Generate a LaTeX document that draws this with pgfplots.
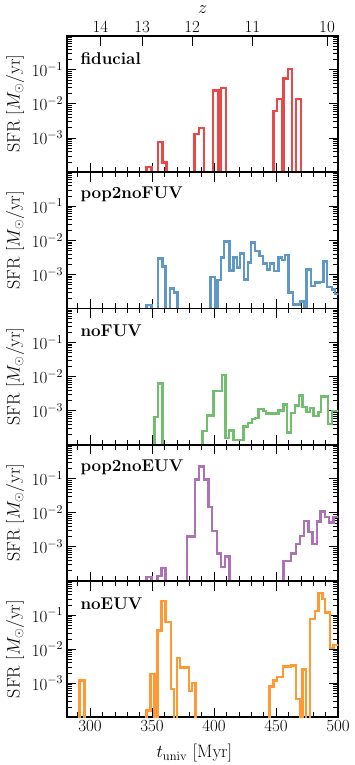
\RequirePackage{fix-cm}
\documentclass[border=0pt]{standalone}
\usepackage{pgfplots}
\pgfplotsset{compat=1.18}

\definecolor{cred}{RGB}{233,72,73}
\definecolor{cblue}{RGB}{95,152,198}
\definecolor{cgreen}{RGB}{113,191,110}
\definecolor{cpurple}{RGB}{173,113,181}
\definecolor{corange}{RGB}{255,153,51}

\newcommand{\tickfont}{\fontsize{17}{17}\selectfont}
\newcommand{\labfont}{\fontsize{18}{18}\selectfont}
\newcommand{\tagfont}{\fontsize{17}{17}\selectfont\bfseries}

\pgfplotsset{
  sfrpanel/.style={
    scale only axis, width=271.6pt, height=136.3pt,
    xmin=281.2, xmax=500.2,
    ymin=1e-4, ymax=1,
    xtick={300,350,400,450,500},
    minor xtick={290,300,...,500},
    ytick={1e-3,1e-2,1e-1},
    minor ytick={2e-4,3e-4,4e-4,5e-4,6e-4,7e-4,8e-4,9e-4,
                 2e-3,3e-3,4e-3,5e-3,6e-3,7e-3,8e-3,9e-3,
                 2e-2,3e-2,4e-2,5e-2,6e-2,7e-2,8e-2,9e-2,
                 0.2,0.3,0.4,0.5,0.6,0.7,0.8,0.9},
    tick align=inside, xtick pos=both, ytick pos=both,
    major tick length=9.5pt, minor tick length=5pt,
    major tick style={black, line width=1pt},
    minor tick style={black, line width=0.6pt},
    axis line style={line width=1.7pt},
    tick label style={font=\tickfont},
    ylabel={$\mathrm{SFR}\ [M_\odot/\mathrm{yr}]$},
    ylabel style={font=\labfont, at={(axis description cs:-0.19,0.5)}, anchor=center},
    every axis plot/.append style={const plot, line width=2.4pt, line join=miter},
  },
}

\begin{document}
\begin{tikzpicture}

% fiducial
\begin{semilogyaxis}[sfrpanel, name=p1, xtick pos=left, xticklabels={}]
\addplot[cred] coordinates {
(340,1e-6) (345.7,1.4e-4) (349.7,1e-6) (354.6,7.8e-4) (358.6,1.9e-4) (361.8,1e-6)
(384.4,1.3e-3) (387.9,2.0e-3) (391.9,1e-6) (399.4,2.5e-2) (403.5,1e-6)
(405.4,3.0e-2) (409.7,1e-6) (447.8,6.2e-3) (451.0,1.4e-2) (454.6,1e-6)
(455.9,5.6e-2) (459.4,0.107) (463.1,1e-6) (465.9,1.4e-2) (469.9,1e-6) (480,1e-6)};
\node[anchor=west, font=\tagfont] at (rel axis cs:0.038,0.835) {fiducial};
\end{semilogyaxis}

% redshift axis on top
\begin{axis}[at={(p1.north west)}, anchor=north west, scale only axis,
  width=271.6pt, height=136.3pt, xmin=281.2, xmax=500.2, ymin=0, ymax=1,
  hide y axis, xtick={308.4,342.0,382.3,431.0,491.1},
  xticklabels={14,13,12,11,10}, xtick pos=right, xticklabel pos=right,
  tick align=inside, major tick length=10pt,
  major tick style={black, line width=1pt}, axis line style={line width=1.7pt},
  tick label style={font=\tickfont}, xlabel={$z$}, xlabel style={font=\labfont}]
\end{axis}

% pop2noFUV
\begin{semilogyaxis}[sfrpanel, name=p2, at={(p1.south west)}, anchor=north west, xticklabels={}]
\addplot[cblue] coordinates {
(340,1e-6) (345.7,1.25e-4) (349.7,1e-6) (354.6,2.9e-3) (358.3,1.7e-3) (361,1e-6)
(364.5,3.8e-4) (367.7,2.9e-4) (370.4,1e-6) (397.3,8.4e-4) (400.8,1e-6)
(402.7,6.7e-4) (405.4,3.1e-3) (408.1,9.1e-3) (412.4,1.3e-3) (415.6,3.1e-3)
(418.3,1.6e-3) (421.0,4.1e-3) (424.2,7.1e-4) (427.2,2.2e-3) (430.0,8.6e-3)
(433.1,4.9e-3) (436.5,3.5e-3) (439.3,2.1e-3) (442.5,1.4e-3) (445.2,2.1e-3)
(448.4,1.25e-3) (451.9,3.1e-3) (454.6,2.6e-3) (457.3,3.7e-3) (460.0,2.9e-4)
(463.5,1.3e-4) (469.4,1.6e-4) (472.6,1e-6) (474.7,1.4e-3) (478.0,4.5e-4)
(481.5,5.7e-4) (484.9,6.0e-4) (488.2,2.4e-3) (490.9,4.2e-4) (494.9,3.6e-4)
(497.6,2.6e-4) (505,2.6e-4)};
\node[anchor=west, font=\tagfont] at (rel axis cs:0.038,0.835) {pop2noFUV};
\end{semilogyaxis}

% noFUV
\begin{semilogyaxis}[sfrpanel, name=p3, at={(p2.south west)}, anchor=north west, xticklabels={}]
\addplot[cgreen] coordinates {
(340,1e-6) (351.9,6.4e-4) (354.6,6.3e-3) (358.3,1e-6) (390.6,2.5e-4)
(394.1,7.3e-4) (399.5,3.8e-3) (406.2,1.1e-2) (409.4,1.6e-4) (412.1,2.6e-4)
(415.6,1.4e-4) (423.7,3.4e-4) (427.2,4.4e-4) (430.4,5.6e-4) (433.1,6.2e-4)
(435.8,1.1e-3) (439.8,9.8e-4) (441.7,8.3e-4) (452.0,1.0e-3) (455.9,1.5e-3)
(458.6,2.3e-4) (462.1,8.7e-4) (465.3,1.4e-3) (468.6,2.8e-3) (471.2,1.3e-3)
(474.7,9.1e-4) (477.4,1.2e-3) (480.1,7.0e-4) (484.1,9.1e-4) (486.3,2.6e-3)
(491.7,4.0e-4) (494.9,9.8e-4) (505,9.8e-4)};
\node[anchor=west, font=\tagfont] at (rel axis cs:0.038,0.835) {noFUV};
\end{semilogyaxis}

% pop2noEUV
\begin{semilogyaxis}[sfrpanel, name=p4, at={(p3.south west)}, anchor=north west, xticklabels={}]
\addplot[cpurple] coordinates {
(340,1e-6) (345.7,1.3e-4) (349.7,1e-6) (354.3,1.4e-4) (357.8,2.4e-4) (361,1e-6)
(378.0,2.0e-3) (384.7,9.6e-2) (387.9,0.23) (391.9,9.6e-2) (395.4,1.5e-2)
(398.6,2.9e-3) (402.2,6.4e-4) (405.4,2.6e-4) (408.9,5.3e-4) (412.4,1e-6)
(455.9,3.8e-4) (462.1,6.4e-4) (465.9,1.2e-3) (469.4,2.1e-3) (472.6,5.7e-3)
(476.1,2.8e-3) (479.3,1.2e-3) (482.8,5.6e-3) (486.0,1.1e-2) (489.5,7.5e-3)
(492.7,5.2e-3) (496.2,7.5e-3) (505,7.5e-3)};
\node[anchor=west, font=\tagfont] at (rel axis cs:0.038,0.835) {pop2noEUV};
\end{semilogyaxis}

% noEUV
\begin{semilogyaxis}[sfrpanel, name=p5, at={(p4.south west)}, anchor=north west,
  xlabel={$t_{\mathrm{univ}}$ [Myr]},
  xlabel style={font=\labfont, at={(axis description cs:0.47,-0.264)}, anchor=center}]
\addplot[corange] coordinates {
(285,1e-6) (291.4,1.2e-3) (295.4,1e-6) (345.7,1.6e-4) (348.9,1.9e-3) (351.9,1e-6)
(354.3,3.5e-2) (357.8,0.26) (361.0,6.3e-2) (365.3,6.9e-4) (367.7,1e-6)
(369.9,5.5e-3) (372.6,2.9e-3) (379.8,5.9e-4) (382.0,1.0e-3) (385.2,1e-6)
(444.6,8.0e-4) (447.8,1.2e-3) (451.0,1.5e-3) (455.4,3.1e-3) (461.9,3.3e-3)
(465.9,3.4e-4) (469.4,1e-6) (471.2,2.5e-3) (474.2,1e-6) (477.4,7.6e-2)
(481.5,0.13) (484.1,0.45) (487.3,0.30) (489.5,0.12) (493.5,1.1e-2)
(496.2,1.3e-2) (505,1.3e-2)};
\node[anchor=west, font=\tagfont] at (rel axis cs:0.038,0.835) {noEUV};
\end{semilogyaxis}

\pgfresetboundingbox
\path[use as bounding box] (p5.south west) ++(-66.7pt,-47.7pt) rectangle ++(354pt,765pt);
\end{tikzpicture}
\end{document}
